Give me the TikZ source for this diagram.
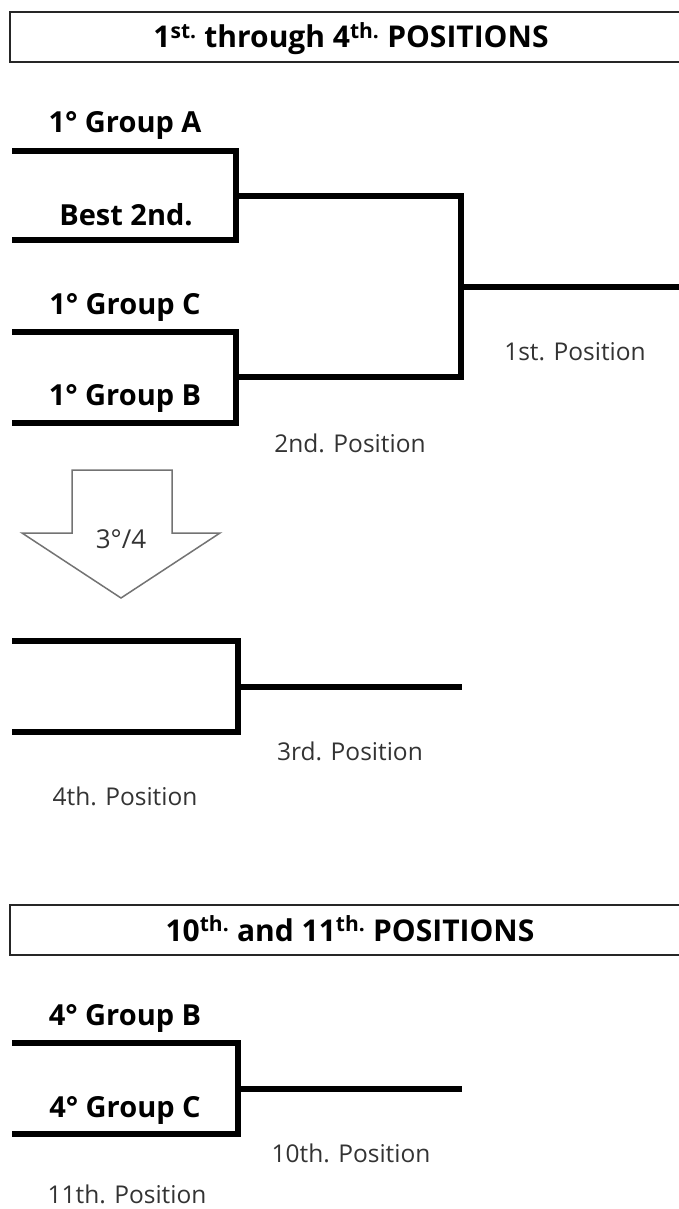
\documentclass[tikz,border=0pt]{standalone}
\usepackage{fontspec}
\setmainfont{Open Sans}
\begin{document}
\begin{tikzpicture}[x=1pt,y=-1pt,
  bline/.style={line width=6pt,black,miter limit=10},
  hdr/.style={draw=black!85,line width=2pt},
  team/.style={font=\fontsize{29}{33}\selectfont\bfseries,anchor=base,inner sep=0pt},
  place/.style={font=\fontsize{24.5}{28}\selectfont,text=black!80,anchor=base,inner sep=0pt},
  htext/.style={font=\fontsize{30}{34}\selectfont\bfseries,anchor=base,inner sep=0pt},
  arrowbox/.style={draw=black!55,line width=1.5pt,fill=white}]
\useasboundingbox (0,0) rectangle (678,1209);
% headers
\draw[hdr] (10,12) rectangle (700,62);
\node[htext] (h1) at (351,48) {1\textsuperscript{st.} through 4\textsuperscript{th.} POSITIONS};
\draw[hdr] (10,905) rectangle (700,955);
\node[htext] (h2) at (350,941) {10\textsuperscript{th.} and 11\textsuperscript{th.} POSITIONS};
% bracket coordinates
\coordinate (a1) at (12,151); \coordinate (a2) at (236,151);
\coordinate (a3) at (236,240); \coordinate (a4) at (12,240);
\coordinate (am) at (236,196);
\coordinate (b1) at (12,332); \coordinate (b2) at (236,332);
\coordinate (b3) at (236,423); \coordinate (b4) at (12,423);
\coordinate (bm) at (236,377);
\coordinate (f1) at (461,196); \coordinate (f2) at (461,377);
\coordinate (fm) at (461,287); \coordinate (fe) at (690,287);
\coordinate (c1) at (12,641); \coordinate (c2) at (238,641);
\coordinate (c3) at (238,732); \coordinate (c4) at (12,732);
\coordinate (cm) at (238,687); \coordinate (ce) at (462,687);
\coordinate (d1) at (12,1043); \coordinate (d2) at (238,1043);
\coordinate (d3) at (238,1134); \coordinate (d4) at (12,1134);
\coordinate (dm) at (238,1089); \coordinate (de) at (462,1089);
% brackets
\draw[bline] (a1) -- (a2) -- (a3) -- (a4);
\draw[bline] (b1) -- (b2) -- (b3) -- (b4);
\draw[bline] (am) -- (f1) -- (f2) -- (bm);
\draw[bline] (fm) -- (fe);
\draw[bline] (c1) -- (c2) -- (c3) -- (c4);
\draw[bline] (cm) -- (ce);
\draw[bline] (d1) -- (d2) -- (d3) -- (d4);
\draw[bline] (dm) -- (de);
% team labels
\node[team] (tA) at (125,133) {1° Group A};
\node[team] (tB2) at (126,225) {Best 2nd.};
\node[team] (tC) at (125,314) {1° Group C};
\node[team] (tB) at (125,405) {1° Group B};
\node[team] (t4B) at (125,1025) {4° Group B};
\node[team] (t4C) at (125,1117) {4° Group C};
% place labels
\node[place] (p1) at (575,360) {1st. Position};
\node[place] (p2) at (350,452) {2nd. Position};
\node[place] (p3) at (350,760) {3rd. Position};
\node[place] (p4) at (125,805) {4th. Position};
\node[place] (p10) at (351,1162) {10th. Position};
\node[place] (p11) at (127,1203) {11th. Position};
% down arrow
\draw[arrowbox] (72,470) -- (172,470) -- (172,533) -- (220,533) -- (121,598) -- (22,533) -- (72,533) -- cycle;
\node[place,font=\fontsize{26}{30}\selectfont] (ar) at (121,548) {3°/4};
\end{tikzpicture}
\end{document}
